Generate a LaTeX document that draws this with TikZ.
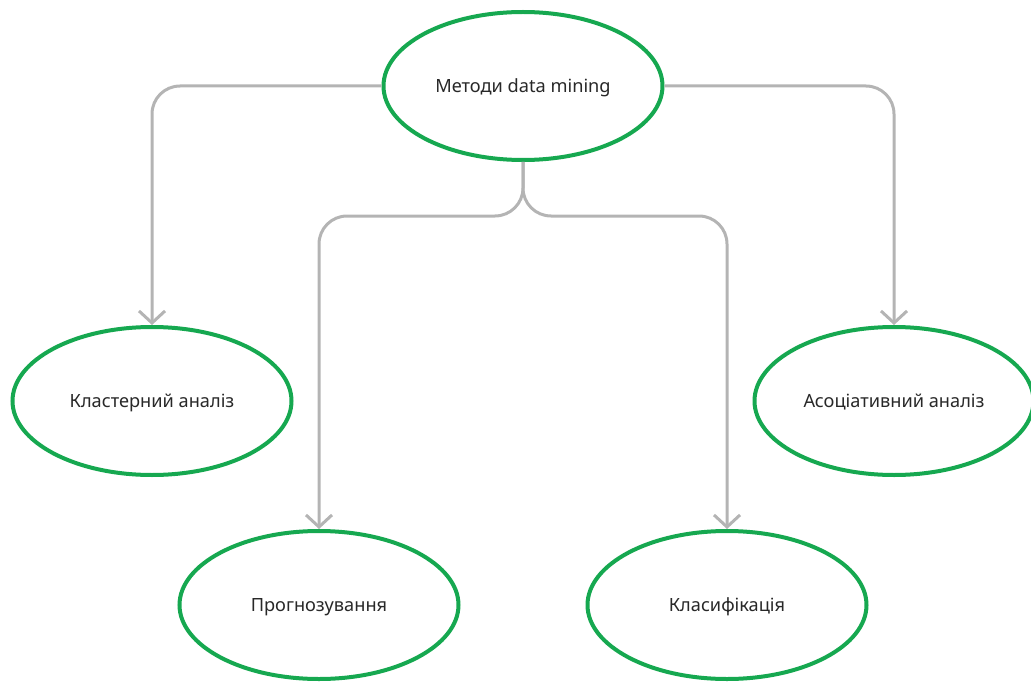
\documentclass[tikz,border=0pt]{standalone}
\usepackage{fontspec}
\setmainfont{Noto Sans}
\usetikzlibrary{arrows.meta,shapes.geometric}
\definecolor{nodegreen}{RGB}{22,168,80}
\definecolor{linkgray}{RGB}{180,180,180}
\definecolor{labelgray}{RGB}{40,40,40}
\tikzset{
  method/.style={ellipse, draw=nodegreen, line width=4pt, minimum width=279pt,
    minimum height=148pt, inner sep=0pt, text=labelgray, text depth=0pt,
    font=\fontsize{18.2}{21}\selectfont},
  link/.style={draw=linkgray, line width=3pt, rounded corners=28pt,
    -{Straight Barb[length=12pt,width=26pt,line width=3pt]}},
}
\begin{document}
\begin{tikzpicture}[x=1pt,y=-1pt]
\useasboundingbox (0,0) rectangle (1031,682);
\node[method] (root) at (523,86) {Методи data mining};
\node[method] (clust) at (152,401) {Кластерний аналіз};
\node[method] (assoc) at (894,401) {Асоціативний аналіз};
\node[method] (pred) at (319,605) {Прогнозування};
\node[method] (class) at (727,605) {Класифікація};

\draw[link] (root.west) -| (clust.north);
\draw[link] (root.east) -| (assoc.north);
\draw[link] (root.south) -- ++(0,54) -| (pred.north);
\draw[link] (root.south) -- ++(0,54) -| (class.north);
\end{tikzpicture}
\end{document}
